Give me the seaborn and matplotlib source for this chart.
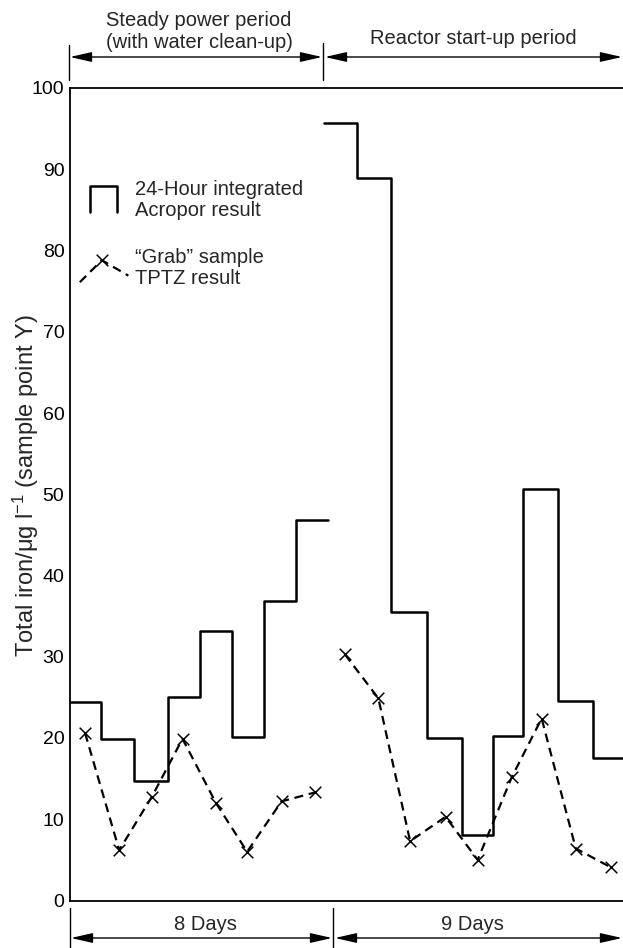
import numpy as np
import pandas as pd
import matplotlib
matplotlib.use("Agg")
import matplotlib.pyplot as plt
import matplotlib.transforms as mtransforms
import seaborn as sns

# 24-hour integrated Acropor results: step edges (days) and levels (µg/l)
steady_edges = [0.0, 0.945, 1.96, 2.98, 3.96, 4.93, 5.92, 6.89, 7.87]
steady_levels = [24.4, 19.9, 14.7, 25.0, 33.2, 20.1, 36.9, 46.8]
startup_edges = [7.74, 8.75, 9.79, 10.87, 11.94, 12.90, 13.82, 14.88, 15.93, 17.0]
startup_levels = [95.7, 88.9, 35.5, 20.0, 8.1, 20.2, 50.7, 24.5, 17.6]

# "Grab" sample TPTZ results
steady_grab_day = [0.46, 1.50, 2.50, 3.43, 4.45, 5.40, 6.45, 7.47]
steady_grab_val = [20.6, 6.2, 12.8, 19.9, 12.0, 6.0, 12.2, 13.3]
startup_grab_day = [8.38, 9.40, 10.37, 11.45, 12.43, 13.47, 14.38, 15.42, 16.48]
startup_grab_val = [30.3, 24.9, 7.3, 10.3, 5.0, 15.2, 22.4, 6.4, 4.1]

y_ticks = [0, 10, 20, 30, 40, 50, 60, 70, 80, 90, 100]
day_ticks = list(range(1, 17))

sns.set_style("white")
plt.rcParams["font.family"] = ["Liberation Sans", "DejaVu Sans"]
plt.rcParams["mathtext.default"] = "regular"

FS = 14.5
DASH = (0, (4.0, 2.6))

W, H = 623, 948
fig = plt.figure(figsize=(W / 100, H / 100), dpi=100)
ax_left, ax_right, ax_top, ax_bot = 70, 623, 88, 900.5
ax = fig.add_axes([ax_left / W, 1 - ax_bot / H, (ax_right - ax_left) / W, (ax_bot - ax_top) / H])
px_per_day = 32.8
ax.set_xlim(0, (ax_right - ax_left) / px_per_day)
ax.set_ylim(0, 100)

def step_frame(edges, levels):
    return pd.DataFrame({"day": edges, "iron": list(levels) + [levels[-1]]})

for edges, levels in [(steady_edges, steady_levels), (startup_edges, startup_levels)]:
    sns.lineplot(data=step_frame(edges, levels), x="day", y="iron", ax=ax,
                 color="black", lw=1.8, drawstyle="steps-post",
                 estimator=None, sort=False, clip_on=False)

for days, vals in [(steady_grab_day, steady_grab_val), (startup_grab_day, startup_grab_val)]:
    sns.lineplot(x=days, y=vals, ax=ax, color="black", lw=1.6,
                 linestyle=DASH, estimator=None, sort=False)
    sns.scatterplot(x=days, y=vals, ax=ax, color="black", marker="x",
                    s=70, linewidth=1.1, zorder=3)

# axes styling
ax.spines["right"].set_visible(False)
for side in ["left", "bottom", "top"]:
    ax.spines[side].set_linewidth(1.3)
    ax.spines[side].set_color("black")
ax.set_yticks(y_ticks)
ax.set_xticks(day_ticks)
ax.set_xticklabels([])
ax.tick_params(axis="y", direction="in", length=6, width=1.1, pad=4, labelsize=14, colors="black")
ax.tick_params(axis="x", direction="in", length=5.5, width=1.1, colors="black")
ax.set_xlabel("")
ax.set_ylabel("Total iron/μg l$^{-1}$ (sample point Y)", fontsize=17)
ax.yaxis.set_label_coords(-0.053, 0.51)

# legend drawn inside the plot
ax.plot([0.61, 0.61, 1.44, 1.44], [84.7, 87.9, 87.9, 84.7], color="black", lw=1.8)
ax.text(1.98, 86.2, "24-Hour integrated\nAcropor result", fontsize=FS,
        va="center", ha="left", linespacing=1.12)
ax.plot([0.30, 0.97, 1.78], [76.1, 78.8, 76.9], color="black", lw=1.6, linestyle=DASH)
ax.scatter([0.97], [78.8], marker="x", color="black", s=70, linewidth=1.1, zorder=3)
ax.text(1.98, 77.8, "\u201cGrab\u201d sample\nTPTZ result", fontsize=FS,
        va="center", ha="left", linespacing=1.12)

# period annotations above and below the axes (x in days, y in figure pixels from top)
blend = mtransforms.blended_transform_factory(ax.transData, fig.transFigure)

def fy(py):
    return 1 - py / H

def vline(day, y0, y1, lw=1.0):
    ax.plot([day, day], [fy(y0), fy(y1)], transform=blend, color="black", lw=lw, clip_on=False)

def double_arrow(d0, d1, py):
    ax.annotate("", xy=(d1, fy(py)), xytext=(d0, fy(py)), xycoords=blend, textcoords=blend,
                annotation_clip=False,
                arrowprops=dict(arrowstyle="<|-|>,head_length=1.1,head_width=0.25",
                                color="black", lw=1.0, shrinkA=0, shrinkB=0, mutation_scale=12))

def day_at(px):
    return (px - ax_left) / px_per_day

# top
vline(day_at(68.5), 45, 80)
vline(day_at(323.3), 43, 80)
double_arrow(day_at(70), day_at(322), 57)
double_arrow(day_at(325), day_at(622), 57)
ax.text(day_at(199), fy(20), "Steady power period", transform=blend, ha="center", va="center", fontsize=FS)
ax.text(day_at(199), fy(43), "(with water clean-up)", transform=blend, ha="center", va="center", fontsize=FS)
ax.text(day_at(473), fy(38), "Reactor start-up period", transform=blend, ha="center", va="center", fontsize=FS)

# bottom
vline(day_at(70), 908, 948)
vline(day_at(333.3), 908, 948)
double_arrow(day_at(71), day_at(332), 938)
double_arrow(day_at(335), day_at(622), 938)
ax.text(day_at(205), fy(925), "8 Days", transform=blend, ha="center", va="center", fontsize=FS)
ax.text(day_at(472), fy(925), "9 Days", transform=blend, ha="center", va="center", fontsize=FS)

fig.savefig("out.png", dpi=100)
